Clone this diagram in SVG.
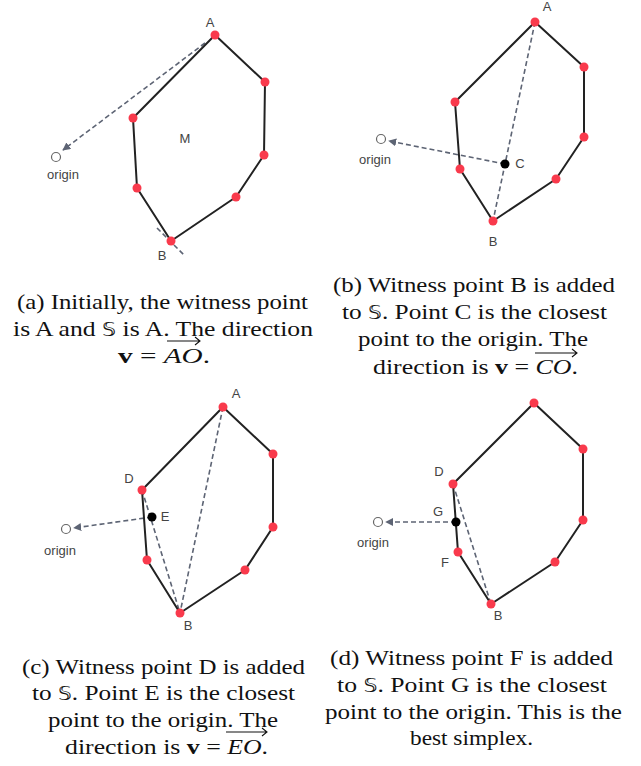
<svg xmlns="http://www.w3.org/2000/svg" width="641" height="766" viewBox="0 0 641 766">
<style>
.hull{fill:none;stroke:#222;stroke-width:2;stroke-linejoin:round}
.dash{fill:none;stroke:#5d6474;stroke-width:1.6;stroke-dasharray:5,3}
.pt{fill:#f93a4c}
.cp{fill:#000}
.org{fill:#fff;stroke:#666;stroke-width:1.2}
.lbl{font-family:"Liberation Sans",Arial,sans-serif;font-size:13px;fill:#444;text-anchor:middle}
.cap{font-family:"Liberation Serif","Times New Roman","DejaVu Serif",serif;font-size:22px;fill:#111}
.ds{font-family:"DejaVu Sans","DejaVu Serif",serif;font-size:19px}
.vec{fill:none;stroke:#111;stroke-width:1.1}
</style>
<defs>
<marker id="ah" viewBox="0 0 10 10" refX="9" refY="5" markerWidth="5" markerHeight="5" orient="auto" markerUnits="strokeWidth">
<path d="M0,0 L10,5 L0,10 z" fill="#5d6474"/>
</marker>
</defs>
<g id="connectors">
<line class="dash" x1="205" y1="43" x2="63" y2="150" marker-end="url(#ah)"/>
<line class="dash" x1="157" y1="228" x2="185" y2="256"/>
<line class="dash" x1="535" y1="22" x2="493" y2="221"/>
<line class="dash" x1="505" y1="164" x2="389" y2="141" marker-end="url(#ah)"/>
<line class="dash" x1="223" y1="407" x2="180" y2="613"/>
<line class="dash" x1="142" y1="490" x2="180" y2="613"/>
<line class="dash" x1="152" y1="517" x2="74" y2="528" marker-end="url(#ah)"/>
<line class="dash" x1="453" y1="484" x2="491" y2="604"/>
<line class="dash" x1="456" y1="522" x2="386" y2="522" marker-end="url(#ah)"/>
</g>
<g id="panel-a">
<polygon class="hull" points="215,35 265,82 264,155 236,197 171,241 137,188 133,118"/>
<g class="pt"><circle cx="215" cy="35" r="4.5"/><circle cx="265" cy="82" r="4.5"/><circle cx="264" cy="155" r="4.5"/><circle cx="236" cy="197" r="4.5"/><circle cx="171" cy="241" r="4.5"/><circle cx="137" cy="188" r="4.5"/><circle cx="133" cy="118" r="4.5"/></g>
<circle class="org" cx="56" cy="157" r="4.5"/>
<text class="lbl" x="63" y="179">origin</text>
<text class="lbl" x="210" y="27">A</text>
<text class="lbl" x="185" y="143">M</text>
<text class="lbl" x="162" y="260">B</text>
</g>
<g id="panel-b">
<polygon class="hull" points="535,22 584,67 584,137 556,179 493,221 460,169 455,102"/>
<g class="pt"><circle cx="535" cy="22" r="4.5"/><circle cx="584" cy="67" r="4.5"/><circle cx="584" cy="137" r="4.5"/><circle cx="556" cy="179" r="4.5"/><circle cx="493" cy="221" r="4.5"/><circle cx="460" cy="169" r="4.5"/><circle cx="455" cy="102" r="4.5"/></g>
<circle class="cp" cx="505" cy="164" r="4.5"/>
<circle class="org" cx="381" cy="139" r="4.5"/>
<text class="lbl" x="375" y="164">origin</text>
<text class="lbl" x="547" y="11">A</text>
<text class="lbl" x="520" y="168">C</text>
<text class="lbl" x="493" y="246">B</text>
</g>
<g id="panel-c">
<polygon class="hull" points="223,407 273,454 273,527 245,570 180,613 147,560 142,490"/>
<g class="pt"><circle cx="223" cy="407" r="4.5"/><circle cx="273" cy="454" r="4.5"/><circle cx="273" cy="527" r="4.5"/><circle cx="245" cy="570" r="4.5"/><circle cx="180" cy="613" r="4.5"/><circle cx="147" cy="560" r="4.5"/><circle cx="142" cy="490" r="4.5"/></g>
<circle class="cp" cx="152" cy="517" r="4.5"/>
<circle class="org" cx="66" cy="529" r="4.5"/>
<text class="lbl" x="60" y="555">origin</text>
<text class="lbl" x="236" y="398">A</text>
<text class="lbl" x="129" y="483">D</text>
<text class="lbl" x="165" y="521">E</text>
<text class="lbl" x="188" y="630">B</text>
</g>
<g id="panel-d">
<polygon class="hull" points="534,403 583,449 583,520 555,562 491,604 458,552 453,484"/>
<g class="pt"><circle cx="534" cy="403" r="4.5"/><circle cx="583" cy="449" r="4.5"/><circle cx="583" cy="520" r="4.5"/><circle cx="555" cy="562" r="4.5"/><circle cx="491" cy="604" r="4.5"/><circle cx="458" cy="552" r="4.5"/><circle cx="453" cy="484" r="4.5"/></g>
<circle class="cp" cx="456" cy="522" r="4.5"/>
<circle class="org" cx="378" cy="522" r="4.5"/>
<text class="lbl" x="373" y="547">origin</text>
<text class="lbl" x="439" y="476">D</text>
<text class="lbl" x="438" y="516">G</text>
<text class="lbl" x="445" y="567">F</text>
<text class="lbl" x="498" y="620">B</text>
</g>
<g id="caption-a">
<text class="cap" x="17" y="309" textLength="291" lengthAdjust="spacingAndGlyphs">(a) Initially, the witness point</text>
<text class="cap" x="13" y="336" textLength="300" lengthAdjust="spacingAndGlyphs">is A and <tspan class="ds">𝕊</tspan> is A. The direction</text>
<text class="cap" x="118" y="363" textLength="92" lengthAdjust="spacingAndGlyphs"><tspan font-weight="bold">v</tspan> = <tspan font-style="italic">AO</tspan>.</text>
<path class="vec" d="M167,341 H200 M195,337 L200,341 L195,345"/>
</g>
<g id="caption-b">
<text class="cap" x="333" y="292" textLength="282" lengthAdjust="spacingAndGlyphs">(b) Witness point B is added</text>
<text class="cap" x="342" y="319" textLength="265" lengthAdjust="spacingAndGlyphs">to <tspan class="ds">𝕊</tspan>. Point C is the closest</text>
<text class="cap" x="358" y="346" textLength="230" lengthAdjust="spacingAndGlyphs">point to the origin. The</text>
<text class="cap" x="373" y="374" textLength="205" lengthAdjust="spacingAndGlyphs">direction is <tspan font-weight="bold">v</tspan> = <tspan font-style="italic">CO</tspan>.</text>
<path class="vec" d="M535,353 H577 M572,349 L577,353 L572,357"/>
</g>
<g id="caption-c">
<text class="cap" x="22" y="674" textLength="283" lengthAdjust="spacingAndGlyphs">(c) Witness point D is added</text>
<text class="cap" x="32" y="700" textLength="263" lengthAdjust="spacingAndGlyphs">to <tspan class="ds">𝕊</tspan>. Point E is the closest</text>
<text class="cap" x="48" y="727" textLength="230" lengthAdjust="spacingAndGlyphs">point to the origin. The</text>
<text class="cap" x="65" y="754" textLength="203" lengthAdjust="spacingAndGlyphs">direction is <tspan font-weight="bold">v</tspan> = <tspan font-style="italic">EO</tspan>.</text>
<path class="vec" d="M226,732 H267 M262,728 L267,732 L262,736"/>
</g>
<g id="caption-d">
<text class="cap" x="330" y="665" textLength="283" lengthAdjust="spacingAndGlyphs">(d) Witness point F is added</text>
<text class="cap" x="337" y="692" textLength="270" lengthAdjust="spacingAndGlyphs">to <tspan class="ds">𝕊</tspan>. Point G is the closest</text>
<text class="cap" x="325" y="719" textLength="297" lengthAdjust="spacingAndGlyphs">point to the origin. This is the</text>
<text class="cap" x="410" y="745" textLength="123" lengthAdjust="spacingAndGlyphs">best simplex.</text>
</g>
</svg>
